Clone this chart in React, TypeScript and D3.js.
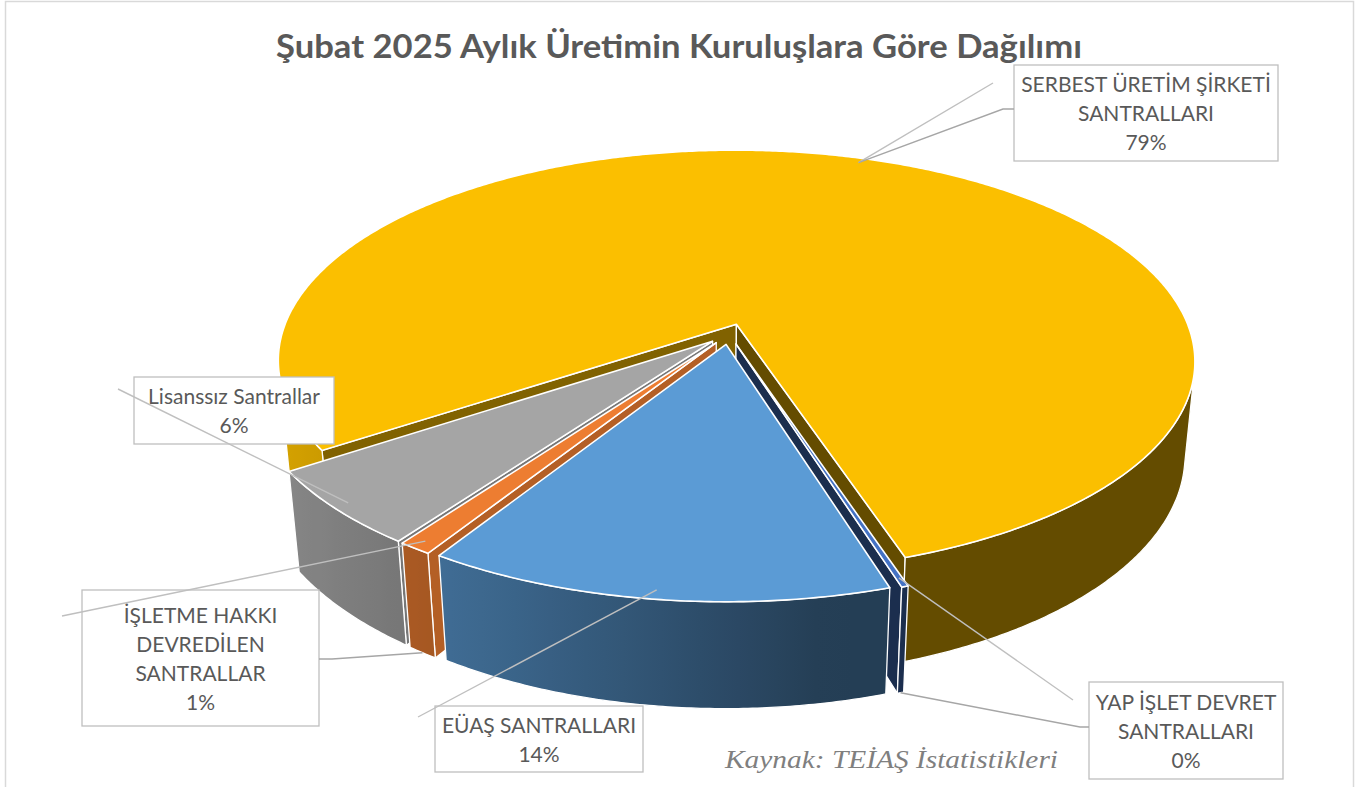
import React, { useMemo } from "react";
import * as d3 from "d3";

// ---------- data ----------
const categories = [
  "EÜAŞ SANTRALLARI",
  "İŞLETME HAKKI DEVREDİLEN SANTRALLAR",
  "Lisanssız Santrallar",
  "SERBEST ÜRETİM ŞİRKETİ SANTRALLARI",
  "YAP İŞLET DEVRET SANTRALLARI",
];
const shares = [13.7, 1.0, 5.7, 79.4, 0.2];
const labelLines = [
  ["EÜAŞ SANTRALLARI"],
  ["İŞLETME HAKKI", "DEVREDİLEN", "SANTRALLAR"],
  ["Lisanssız Santrallar"],
  ["SERBEST ÜRETİM ŞİRKETİ", "SANTRALLARI"],
  ["YAP İŞLET DEVRET", "SANTRALLARI"],
];
const sliceColors = ["#5B9BD5", "#ED7D31", "#A5A5A5", "#FBBF00", "#4472C4"];
const title = "Şubat 2025 Aylık Üretimin Kuruluşlara Göre Dağılımı";
const sourceNote = "Kaynak: TEİAŞ İstatistikleri";

// ---------- layout ----------
const W = 1363;
const H = 787;
const CX = 729;
const CY = 334;
const SCALE = 455;
const SIN = 0.457;
const COS = Math.sqrt(1 - SIN * SIN);
const DIST = 5.05;
const THICK = 0.235;
const EXPLODE = 0.05;
const START_DEG = 162.7;
const DEG = Math.PI / 180;

type Leader = { from: "top" | "bottom"; pts: [number, number][] };
const labelLayout: { box: [number, number, number, number]; leaders: Leader[] }[] = [
  { box: [435, 706, 208, 66], leaders: [{ from: "top", pts: [[418, 717]] }] },
  {
    box: [82, 590, 237, 136],
    leaders: [
      { from: "top", pts: [[62, 616]] },
      { from: "bottom", pts: [[332, 659], [319, 659]] },
    ],
  },
  { box: [134, 377, 200, 67], leaders: [{ from: "top", pts: [[118, 389]] }] },
  {
    box: [1014, 65, 264, 96],
    leaders: [
      { from: "top", pts: [[993, 83]] },
      { from: "top", pts: [[1003, 109], [1014, 109]] },
    ],
  },
  {
    box: [1089, 682, 194, 97],
    leaders: [
      { from: "top", pts: [[1073, 700]] },
      { from: "bottom", pts: [[1080, 727], [1089, 727]] },
    ],
  },
];

type V3 = [number, number, number];
function project(p: V3): [number, number, number] {
  const [X, Y, Z] = p;
  const sy = -Y * SIN + Z * COS;
  const dep = Y * COS + Z * SIN;
  const f = DIST / (DIST - dep);
  return [CX + SCALE * f * X, CY - SCALE * f * sy, dep];
}
const CAM: V3 = [0, DIST * COS, DIST * SIN];
function facing(p: V3, n: V3) {
  return (CAM[0] - p[0]) * n[0] + (CAM[1] - p[1]) * n[1] + (CAM[2] - p[2]) * n[2] > 0;
}
function shadeColor(c: string, s: number) {
  const r = d3.rgb(c);
  return d3.rgb(r.r * s, r.g * s, r.b * s).formatHex();
}
function outerShade(a: number) {
  return 0.4 + 0.45 * Math.max(0, Math.cos(a - 260 * DEG));
}
function radialShade(n: V3) {
  const b = (Math.atan2(n[0], -n[1]) / DEG + 360) % 360;
  const s = 0.72 - 0.0102 * (b - 126);
  return Math.max(0.4, Math.min(0.9, s));
}

type Face = {
  d: string;
  depth: number;
  fill: string;
  grad?: { id: string; x1: number; x2: number; stops: { o: number; c: string }[] };
};

export default function App() {
  const { sides, tops, anchors } = useMemo(() => {
    const pie = d3
      .pie<number>()
      .sort(null)
      .value((d) => d)
      .startAngle(START_DEG * DEG)
      .endAngle(START_DEG * DEG + 2 * Math.PI);
    const arcs = pie(shares);
    const line = d3.line<[number, number]>().curve(d3.curveLinearClosed);
    const sides: Face[] = [];
    const tops: Face[] = [];
    const anchors: { top: [number, number]; bottom: [number, number] }[] = [];

    arcs.forEach((arc, i) => {
      const a0 = arc.startAngle;
      const a1 = arc.endAngle;
      const mid = (a0 + a1) / 2;
      const ox = EXPLODE * Math.sin(mid);
      const oy = -EXPLODE * Math.cos(mid);
      const base = sliceColors[i];
      const rim = (a: number, z: number, r = 1): V3 => [ox + r * Math.sin(a), oy - r * Math.cos(a), z];
      const apexT: V3 = [ox, oy, 0];
      const apexB: V3 = [ox, oy, -THICK];
      const steps = Math.max(2, Math.ceil((a1 - a0) / (0.5 * DEG)));
      const angles = d3.range(steps + 1).map((k) => a0 + ((a1 - a0) * k) / steps);

      const tp = project(rim(mid, 0, 0.97));
      const bp = project(rim(mid, -THICK, 1));
      anchors.push({ top: [tp[0], tp[1]], bottom: [bp[0], bp[1]] });

      // top face
      const topPts = [apexT, ...angles.map((a) => rim(a, 0))].map(project);
      tops.push({
        d: line(topPts.map((p) => [p[0], p[1]] as [number, number]))!,
        depth: 0,
        fill: base,
      });

      // outer side, split into visible runs
      const vis = angles.map((a) => facing(rim(a, -THICK / 2), [Math.sin(a), -Math.cos(a), 0]));
      let run: number[] = [];
      const flush = (runIdx: number) => {
        if (run.length >= 2) {
          const topR = run.map((a) => project(rim(a, 0)));
          const botR = run.map((a) => project(rim(a, -THICK))).reverse();
          const all = [...topR, ...botR];
          const depth = d3.mean(all, (p) => p[2])!;
          const xs = topR.map((p) => p[0]);
          const x1 = xs[0];
          const x2 = xs[xs.length - 1];
          const every = Math.max(1, Math.floor(run.length / 12));
          const stops = run
            .filter((_, k) => k % every === 0 || k === run.length - 1)
            .map((a) => {
              const x = project(rim(a, 0))[0];
              return { o: x2 === x1 ? 0 : (x - x1) / (x2 - x1), c: shadeColor(base, outerShade(a)) };
            })
            .sort((p, q) => p.o - q.o);
          sides.push({
            d: line(all.map((p) => [p[0], p[1]] as [number, number]))!,
            depth,
            fill: "",
            grad: { id: `g${i}_${runIdx}`, x1, x2, stops },
          });
        }
        run = [];
      };
      let runCount = 0;
      angles.forEach((a, k) => {
        if (vis[k]) run.push(a);
        else flush(runCount++);
      });
      flush(runCount++);

      // radial faces
      const radial = (a: number, n: V3) => {
        const quad: V3[] = [apexT, rim(a, 0), rim(a, -THICK), apexB];
        const c: V3 = [
          d3.mean(quad, (p) => p[0])!,
          d3.mean(quad, (p) => p[1])!,
          d3.mean(quad, (p) => p[2])!,
        ];
        if (!facing(c, n)) return;
        const pp = quad.map(project);
        sides.push({
          d: line(pp.map((p) => [p[0], p[1]] as [number, number]))!,
          depth: d3.mean(pp, (p) => p[2])!,
          fill: shadeColor(base, radialShade(n)),
        });
      };
      radial(a0, [-Math.cos(a0), -Math.sin(a0), 0]);
      radial(a1, [Math.cos(a1), Math.sin(a1), 0]);
    });

    sides.sort((p, q) => p.depth - q.depth);
    return { sides, tops, anchors };
  }, []);

  const pct = d3.format(".0%");
  const LH = 29;
  const FS = 21;

  return (
    <svg
      width={W}
      height={H}
      style={{ position: "absolute", left: 0, top: 0, background: "#fff" }}
      xmlns="http://www.w3.org/2000/svg"
    >
      <defs>
        {sides
          .filter((f) => f.grad)
          .map((f) => (
            <linearGradient
              key={f.grad!.id}
              id={f.grad!.id}
              gradientUnits="userSpaceOnUse"
              x1={f.grad!.x1}
              x2={f.grad!.x2}
              y1={0}
              y2={0}
            >
              {f.grad!.stops.map((s, k) => (
                <stop key={k} offset={Math.max(0, Math.min(1, s.o))} stopColor={s.c} />
              ))}
            </linearGradient>
          ))}
      </defs>
      <rect x={5.5} y={1.5} width={1348} height={H + 20} fill="#fff" stroke="#D9D9D9" strokeWidth={1.5} />
      <text
        x={679}
        y={58}
        textAnchor="middle"
        fontFamily="Lato, 'Open Sans', sans-serif"
        fontWeight="bold"
        fontSize={33}
        fill="#595959"
        textLength={806}
        lengthAdjust="spacingAndGlyphs"
      >
        {title}
      </text>

      <g strokeLinejoin="round">
        {sides.map((f, k) => (
          <path
            key={"s" + k}
            d={f.d}
            fill={f.grad ? `url(#${f.grad.id})` : f.fill}
            stroke="#FFFFFF"
            strokeWidth={1.3}
          />
        ))}
        {tops.map((f, k) => (
          <path key={"t" + k} d={f.d} fill={f.fill} stroke="#FFFFFF" strokeWidth={1.6} />
        ))}
      </g>

      {labelLayout.map((L, i) => {
        const [bx, by, bw, bh] = L.box;
        const lines = [...labelLines[i], pct(shares[i] / 100)];
        const cy = by + bh / 2;
        return (
          <g key={"lab" + i}>
            <rect x={bx} y={by} width={bw} height={bh} fill="#FFFFFF" stroke="#BFBFBF" strokeWidth={1.3} />
            {lines.map((t, k) => (
              <text
                key={k}
                x={bx + bw / 2}
                y={cy + (k - (lines.length - 1) / 2) * LH + 0.4 * FS}
                textAnchor="middle"
                fontFamily="Lato, 'Open Sans', sans-serif"
                fontSize={FS}
                fill="#595959"
              >
                {t}
              </text>
            ))}
          </g>
        );
      })}

      {labelLayout.map((L, i) =>
        L.leaders.map((ld, k) => {
          const start = ld.from === "top" ? anchors[i].top : anchors[i].bottom;
          const pts = [start, ...ld.pts];
          return (
            <path
              key={`ld${i}_${k}`}
              d={d3.line()(pts as [number, number][])!}
              fill="none"
              stroke={ld.from === "bottom" || k > 0 ? "#A6A6A6" : "#BFBFBF"}
              strokeWidth={1.4}
            />
          );
        })
      )}

      <text
        x={725}
        y={768}
        fontFamily="'Liberation Serif', 'DejaVu Serif', serif"
        fontStyle="italic"
        fontSize={25}
        fill="#7F7F7F"
        textLength={333}
        lengthAdjust="spacingAndGlyphs"
      >
        {sourceNote}
      </text>
    </svg>
  );
}
